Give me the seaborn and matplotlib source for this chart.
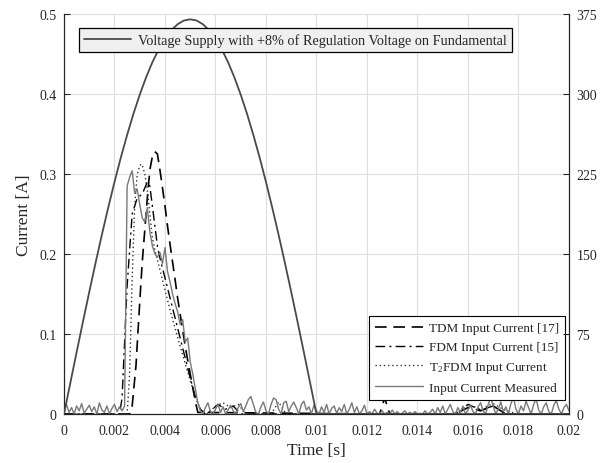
import matplotlib
matplotlib.use("Agg")
import numpy as np
import pandas as pd
import seaborn as sns
import matplotlib.pyplot as plt

# ---------------- data ----------------
volt_t = [i * 0.00025 for i in range(41)] + [0.02]
volt_v = [0, 29.0, 57.9, 86.4, 114.3, 141.6, 168.0, 193.3, 217.5, 240.3, 261.6,
          281.4, 299.3, 315.5, 329.7, 341.8, 351.9, 359.8, 365.4, 368.9, 370.0,
          368.9, 365.4, 359.8, 351.9, 341.8, 329.7, 315.5, 299.3, 281.4, 261.6,
          240.3, 217.5, 193.3, 168.0, 141.6, 114.3, 86.4, 57.9, 29.0, 0, 0]

tdm_t = [0, 0.0026, 0.0027, 0.00285, 0.0030, 0.0031, 0.0032, 0.0033, 0.0034, 0.0035,
         0.0036, 0.0037, 0.0038, 0.0039, 0.0040, 0.0041, 0.0042, 0.0043, 0.0044, 0.0045,
         0.0046, 0.0047, 0.0048, 0.0049, 0.0050, 0.0051, 0.0052, 0.0053, 0.0125, 0.0127,
         0.0129, 0.0155, 0.0160, 0.0165, 0.0170, 0.0175, 0.02]
tdm_v = [0, 0, 0.01, 0.06, 0.14, 0.19, 0.23, 0.27, 0.305, 0.322,
         0.328, 0.325, 0.305, 0.283, 0.26, 0.235, 0.212, 0.19, 0.168, 0.145,
         0.125, 0.105, 0.085, 0.067, 0.05, 0.033, 0.016, 0.002, 0, 0.02,
         0, 0, 0.008, 0.004, 0.01, 0, 0]

fdm_t = [0, 0.0022, 0.0023, 0.0025, 0.0027, 0.0029, 0.0031, 0.0033, 0.0034, 0.0035,
         0.0036, 0.0037, 0.0038, 0.0040, 0.0042, 0.0044, 0.0046, 0.0048, 0.0050, 0.0052,
         0.0054, 0.0056, 0.0058, 0.0061, 0.0064, 0.0067, 0.0070, 0.0155, 0.016, 0.0165,
         0.017, 0.0175, 0.02]
fdm_v = [0, 0, 0.02, 0.16, 0.25, 0.27, 0.275, 0.29, 0.285, 0.26,
         0.235, 0.21, 0.195, 0.17, 0.145, 0.12, 0.095, 0.07, 0.045, 0.022,
         0.006, 0, 0.004, 0.012, 0.006, 0.01, 0, 0, 0.012, 0.005,
         0.01, 0, 0]

t2fdm_t = [0, 0.0025, 0.0026, 0.0027, 0.0028, 0.0029, 0.0030, 0.00305, 0.0031, 0.0032,
           0.0033, 0.0034, 0.0035, 0.0036, 0.0038, 0.0040, 0.0042, 0.0044, 0.0046, 0.0048,
           0.0050, 0.0052, 0.0054, 0.0057, 0.006, 0.0063, 0.0066, 0.0069, 0.0072, 0.0082,
           0.0085, 0.0088, 0.0156, 0.016, 0.0165, 0.017, 0.0175, 0.018, 0.02]
t2fdm_v = [0, 0, 0.05, 0.17, 0.26, 0.30, 0.31, 0.3125, 0.311, 0.3,
           0.28, 0.25, 0.22, 0.205, 0.18, 0.155, 0.13, 0.107, 0.085, 0.063,
           0.042, 0.022, 0.006, 0, 0.01, 0.014, 0.008, 0.012, 0, 0,
           0.015, 0, 0, 0.012, 0.006, 0.013, 0.004, 0, 0]

meas_v = [0.005, 0.012, 0.002, 0.008, 0.0, 0.01, 0.004, 0.013, 0.001, 0.006,
          0.011, 0.003, 0.009, 0.0, 0.014, 0.005, 0.002, 0.01, 0.0, 0.007,
          0.012, 0.003, 0.009, 0.004,
          0.01, 0.285, 0.296, 0.304, 0.276, 0.281, 0.262, 0.245, 0.24, 0.258,
          0.228, 0.21, 0.2, 0.196, 0.202, 0.188, 0.208, 0.178, 0.165, 0.15,
          0.138, 0.128, 0.112, 0.118, 0.09, 0.095, 0.065, 0.05, 0.032, 0.014, 0.004,
          0.0, 0.008, 0.014, 0.003, 0.0, 0.006,
          0.012, 0.002, 0.009, 0.0, 0.005, 0.011, 0.004, 0.0, 0.008, 0.013,
          0.003, 0.01, 0.018, 0.022, 0.012, 0.002, 0.0, 0.009, 0.015, 0.004,
          0.0, 0.012, 0.02, 0.018, 0.006, 0.0, 0.014, 0.016, 0.003, 0.01,
          0.015, 0.008, 0.0, 0.012, 0.016, 0.005, 0.009, 0.0, 0.011, 0.004,
          0.0, 0.009, 0.002, 0.012, 0.0, 0.007, 0.01, 0.001, 0.008, 0.003,
          0.012, 0.0, 0.006, 0.014, 0.002, 0.009, 0.0, 0.004, 0.011, 0.0,
          0.003, 0.0, 0.006, 0.001, 0.0, 0.004, 0.0, 0.002, 0.0, 0.005,
          0.0, 0.003, 0.0, 0.001, 0.004, 0.0, 0.002, 0.0, 0.003, 0.0,
          0.001, 0.0, 0.004, 0.0, 0.002, 0.006, 0.0, 0.008, 0.002, 0.01,
          0.0, 0.006, 0.012, 0.003, 0.0, 0.008, 0.002, 0.01, 0.0, 0.005,
          0.011, 0.003, 0.0, 0.009, 0.014, 0.004, 0.0, 0.012, 0.02, 0.01,
          0.0, 0.006, 0.015, 0.003, 0.009, 0.0, 0.013, 0.021, 0.006, 0.0,
          0.01, 0.004, 0.016, 0.008, 0.0, 0.012, 0.019, 0.005, 0.0, 0.009,
          0.014, 0.003, 0.0, 0.011, 0.017, 0.006, 0.0, 0.008, 0.012, 0.004]
meas_t = [i * 0.0001 for i in range(len(meas_v))]

x_ticks = [0, 0.002, 0.004, 0.006, 0.008, 0.01, 0.012, 0.014, 0.016, 0.018, 0.02]
x_labels = ["0", "0.002", "0.004", "0.006", "0.008", "0.01", "0.012", "0.014", "0.016", "0.018", "0.02"]
yl_ticks = [0, 0.1, 0.2, 0.3, 0.4, 0.5]
yl_labels = ["0", "0.1", "0.2", "0.3", "0.4", "0.5"]
yr_ticks = [0, 75, 150, 225, 300, 375]

# ---------------- style ----------------
sns.set_style("white")
plt.rcParams["font.family"] = ["Liberation Serif", "DejaVu Serif"]
plt.rcParams["mathtext.fontset"] = "custom"
plt.rcParams["mathtext.rm"] = "Liberation Serif"
plt.rcParams["mathtext.it"] = "Liberation Serif:italic"

fig = plt.figure(figsize=(6.06, 4.64), dpi=100)
ax = fig.add_axes([0.1056, 0.1056, 0.8333, 0.8621])

sns.lineplot(x=tdm_t, y=tdm_v, ax=ax, color="black", lw=1.2, linestyle=(0, (7, 4)),
             label="TDM Input Current [17]", estimator=None, sort=False)
sns.lineplot(x=fdm_t, y=fdm_v, ax=ax, color="black", lw=1.0, linestyle=(0, (7, 3, 1.5, 3)),
             label="FDM Input Current [15]", estimator=None, sort=False)
sns.lineplot(x=t2fdm_t, y=t2fdm_v, ax=ax, color="#333333", lw=1.0, linestyle=(0, (1, 2)),
             label="T$_2$FDM Input Current", estimator=None, sort=False)
sns.lineplot(x=meas_t, y=meas_v, ax=ax, color="#787878", lw=1.0,
             label="Input Current Measured", estimator=None, sort=False)

ax.set_xlim(0, 0.02)
ax.set_ylim(0, 0.5)
ax.set_xticks(x_ticks)
ax.set_xticklabels(x_labels)
ax.set_yticks(yl_ticks)
ax.set_yticklabels(yl_labels)
ax.grid(True, color="#dedede", lw=0.8)
ax.set_axisbelow(True)
ax.set_xlabel("Time [s]", fontsize=12.5, labelpad=3)
ax.set_ylabel("Current [A]", fontsize=12.5, labelpad=5)
ax.tick_params(direction="in", length=4, width=0.8, labelsize=10, colors="#262626")
ax.tick_params(axis="x", pad=7.5)
ax.tick_params(axis="y", pad=5.5)
for s in ["top", "right"]:
    ax.spines[s].set_visible(False)
for s in ["left", "bottom"]:
    ax.spines[s].set_color("#262626")
    ax.spines[s].set_linewidth(0.9)

leg1 = ax.legend(loc="lower right", bbox_to_anchor=(0.993, 0.036), borderaxespad=0,
                 fontsize=9.5, frameon=True, fancybox=False, framealpha=1,
                 edgecolor="black", facecolor="white", handlelength=3.6,
                 handletextpad=0.5, labelspacing=0.5, borderpad=0.45)
leg1.get_frame().set_linewidth(0.8)

ax2 = ax.twinx()
sns.lineplot(x=volt_t, y=volt_v, ax=ax2, color="#4a4a4a", lw=1.3,
             label="Voltage Supply with +8% of Regulation Voltage on Fundamental",
             estimator=None, sort=False)
ax2.set_ylim(0, 375)
ax2.set_yticks(yr_ticks)
ax2.set_ylabel("")
ax2.tick_params(direction="in", length=4, width=0.8, labelsize=10, colors="#262626", pad=5.5)
for s in ["top", "left", "bottom"]:
    ax2.spines[s].set_visible(False)
ax2.spines["right"].set_color("#262626")
ax2.spines["right"].set_linewidth(0.9)
leg2 = ax2.legend(loc="upper left", bbox_to_anchor=(0.0297, 0.965), borderaxespad=0,
                  fontsize=10.3, frameon=True, fancybox=False, framealpha=1,
                  edgecolor="black", facecolor="#f0f0f0", handlelength=3.3,
                  handletextpad=0.5, borderpad=0.35)
leg2.get_frame().set_linewidth(0.9)

fig.savefig("out.png", dpi=100)
